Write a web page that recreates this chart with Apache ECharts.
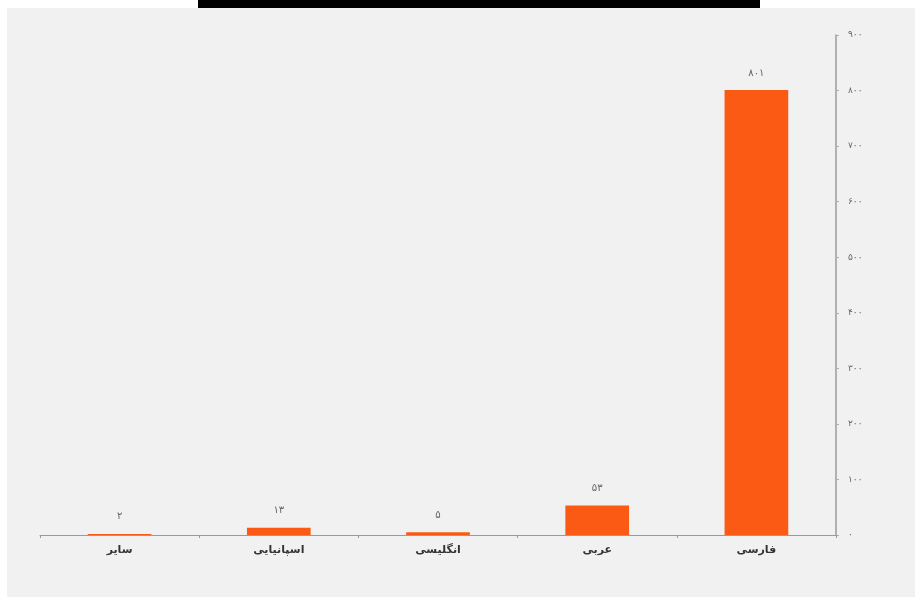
<!DOCTYPE html>
<html>
<head>
<meta charset="utf-8">
<script src="https://cdn.jsdelivr.net/npm/echarts@6/dist/echarts.min.js"></script>
<style>
html,body{margin:0;padding:0;background:#fff;}
#c{width:915px;height:597px;}
</style>
</head>
<body>
<div id="c"></div>
<script>
const categories = ['سایر', 'اسپانیایی', 'انگلیسی', 'عربی', 'فارسی'];
const values = [2, 13, 5, 53, 801];
const yTicks = [0, 100, 200, 300, 400, 500, 600, 700, 800, 900];

const fa = n => String(n).replace(/\d/g, d => '۰۱۲۳۴۵۶۷۸۹'[d]);
const FONT = '"DejaVu Sans", "Noto Sans", sans-serif';

const chart = echarts.init(document.getElementById('c'));
chart.setOption({
  backgroundColor: '#ffffff',
  animation: false,
  graphic: [
    { type: 'rect', z: -10, shape: { x: 7, y: 8, width: 908, height: 589 }, style: { fill: '#f0f1f0' } },
    { type: 'rect', z: 10, shape: { x: 198, y: 0, width: 562, height: 8 }, style: { fill: '#000' } }
  ],
  grid: { left: 40, right: 79, top: 35, bottom: 62, containLabel: false },
  xAxis: {
    type: 'category',
    data: categories,
    axisLine: { lineStyle: { color: '#9a9a9a', width: 1 } },
    axisTick: { show: true, alignWithLabel: false, length: 3, lineStyle: { color: '#9a9a9a' } },
    axisLabel: { color: '#333', fontFamily: FONT, fontSize: 11, fontWeight: 'bold', margin: 10 }
  },
  yAxis: {
    type: 'value',
    position: 'right',
    min: 0, max: yTicks[yTicks.length - 1], interval: 100,
    axisLine: { show: true, lineStyle: { color: '#9a9a9a', width: 1.5 } },
    axisTick: { show: true, length: 3, lineStyle: { color: '#b0b0b0' } },
    splitLine: { show: false },
    axisLabel: { color: '#666', fontFamily: FONT, fontSize: 9, margin: 12, formatter: v => fa(v) }
  },
  series: [{
    type: 'bar',
    data: values,
    barWidth: '40%',
    itemStyle: { color: '#fb5a14' },
    label: {
      show: true, position: 'top', distance: 12,
      color: '#666', fontFamily: FONT, fontSize: 10,
      formatter: p => fa(p.value)
    }
  }]
});
</script>
</body>
</html>
